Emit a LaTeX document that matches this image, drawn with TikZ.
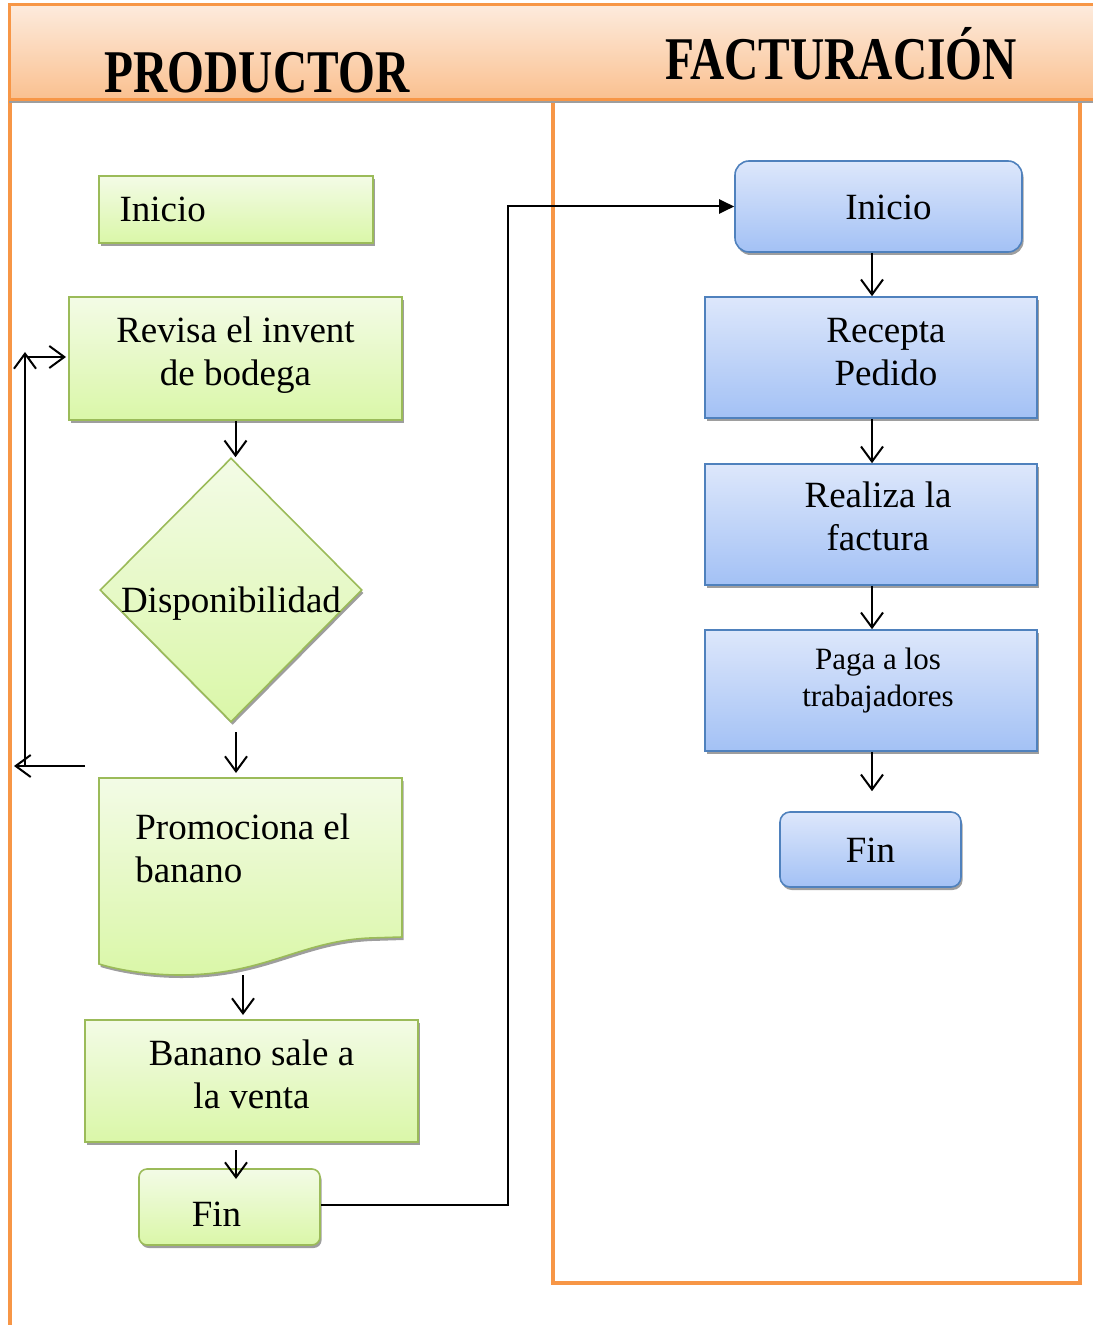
\documentclass[tikz,border=0pt]{standalone}
\usepackage{fontspec}
\usepackage{graphicx}
\setmainfont{Liberation Serif}
\usetikzlibrary{arrows.meta,shapes.geometric,shadows,calc}

\definecolor{lane}{HTML}{F79646}
\definecolor{headtop}{HTML}{FDEBDD}
\definecolor{headbot}{HTML}{FAC08F}
\definecolor{greenline}{HTML}{9BBB59}
\definecolor{greentop}{HTML}{F3FBE6}
\definecolor{greenbot}{HTML}{DAF7A8}
\definecolor{blueline}{HTML}{4F81BD}
\definecolor{bluetop}{HTML}{DDE7FB}
\definecolor{bluebot}{HTML}{A3C1F5}

\newcommand\boxfont{\fontsize{18.5pt}{21.5pt}\selectfont}
\newcommand\smallboxfont{\fontsize{15.5pt}{18.5pt}\selectfont}
\newcommand\headfont{\fontsize{23.7pt}{28pt}\selectfont\bfseries}

\tikzset{
  boxshadow/.style={drop shadow={shadow xshift=0.8pt,shadow yshift=-1.5pt,opacity=1,fill=black!38}},
  greenbox/.style={draw=greenline, line width=0.8pt, top color=greentop, bottom color=greenbot,
                   boxshadow, inner sep=0pt},
  bluebox/.style={draw=blueline, line width=0.8pt, top color=bluetop, bottom color=bluebot,
                  boxshadow, inner sep=0pt},
  boxtext/.style={font=\boxfont, align=center, inner sep=0pt},
  conn/.style={draw, line width=1pt, -{Straight Barb[length=7.5pt,width=11pt,line width=1pt]}},
  lanebar/.style={draw=lane, line width=2pt},
}

\begin{document}
\begin{tikzpicture}[x=0.5pt,y=-0.5pt]
\useasboundingbox (0,0) rectangle (1092,1325);

% swimlane borders
\draw[lanebar] (10,100) -- (10,1330);
\draw[lanebar] (553,100) -- (553,1283) -- (1080,1283) -- (1080,100);

% header band
\path[draw=lane, line width=1.5pt, top color=headtop, bottom color=headbot,
      drop shadow={shadow xshift=0pt,shadow yshift=-1.5pt,opacity=1,fill=black!38}]
  (9,5) rectangle (1110,100);
\node[anchor=base, font=\headfont, inner sep=0pt] (hprod) at (257,93) {\scalebox{1}[1.28]{PRODUCTOR}};
\node[anchor=base, font=\headfont, inner sep=0pt] (hfact) at (841,80) {\scalebox{1}[1.28]{FACTURACIÓN}};

% ---------- PRODUCTOR lane ----------
\node[greenbox, minimum width=137pt, minimum height=33.5pt] (inicioL) at (236,209.5) {};
\node[boxtext, anchor=west] (inicioLt) at ($(inicioL.west)+(21,0)$) {Inicio};

\node[greenbox, minimum width=166.5pt, minimum height=61.5pt] (revisa) at (235.5,358.5) {};
\node[boxtext] (revisat) at ($(revisa)+(0,-3)$) {Revisa el invent\\de bodega};

\node[greenbox, diamond, minimum width=131pt, minimum height=132pt] (dsp) at (231,590) {};
\node[boxtext] (dsptext) at (231,604) {Disponibilidad};

% document shape
\fill[black!38, shift={(1.6,3)}]
  (99,778) -- (402,778) -- (402,937) -- (370,938)
  .. controls (300,941) and (265,975) .. (180,975)
  .. controls (145,975) and (115,969) .. (99,964) -- cycle;
\path[draw=greenline, line width=0.8pt, top color=greentop, bottom color=greenbot]
  (99,778) -- (402,778) -- (402,937) -- (370,938)
  .. controls (300,941) and (265,975) .. (180,975)
  .. controls (145,975) and (115,969) .. (99,964) -- cycle;
\node[font=\boxfont, align=left, anchor=north west, inner sep=0pt] (promo) at (135,813)
  {Promociona el\\banano};

\node[greenbox, minimum width=166.5pt, minimum height=61pt] (banano) at (251.5,1081) {};
\node[boxtext] (bananot) at ($(banano)+(0,-7)$) {Banano sale a\\la venta};

\node[greenbox, rounded corners=4pt, minimum width=90.5pt, minimum height=38pt] (finL)
  at (229.5,1207) {};
\node[boxtext] (finLt) at ($(finL)+(-13,7)$) {Fin};

% connectors, left lane
\draw[conn] (revisa.south) -- (revisa.south |- dsp.north);
\coordinate (d1) at (236,732);
\coordinate (d2) at (236,773);
\draw[conn] (d1) -- (d2);
\coordinate (p1) at (243,975);
\coordinate (p2) at (243,1015);
\draw[conn] (p1) -- (p2);
\coordinate (b1) at (236,1150);
\coordinate (b2) at (236,1179);
\draw[conn] (b1) -- (b2);

% return loop
\coordinate (l1) at (85,766);
\coordinate (l2) at (14,766);
\draw[conn] (l1) -- (l2);
\coordinate (l3) at (25,766);
\coordinate (l4) at (25,352);
\draw[conn] (l3) -- (l4);
\coordinate (l5) at (27,357);
\coordinate (l6) at (66,357);
\draw[conn] (l5) -- (l6);

% ---------- FACTURACIÓN lane ----------
\node[bluebox, rounded corners=7pt, minimum width=143.5pt, minimum height=45.5pt] (inicioR)
  at (878.5,206.5) {};
\node[boxtext] (inicioRt) at ($(inicioR)+(10,1)$) {Inicio};

\node[bluebox, minimum width=166pt, minimum height=60.5pt] (recepta) at (871,357.5) {};
\node[boxtext] (receptat) at ($(recepta)+(15,-5)$) {Recepta\\Pedido};

\node[bluebox, minimum width=166pt, minimum height=60.5pt] (realiza) at (871,524.5) {};
\node[boxtext] (realizat) at ($(realiza)+(7,-8)$) {Realiza la\\factura};

\node[bluebox, minimum width=166pt, minimum height=60.5pt] (paga) at (871,690.5) {};
\node[boxtext, font=\smallboxfont] (pagat) at ($(paga)+(7,-10)$) {Paga a los\\trabajadores};

\node[bluebox, rounded corners=5pt, minimum width=90.5pt, minimum height=37.5pt] (finR)
  at (870.5,849.5) {};
\node[boxtext] (finRt) at ($(finR)+(0,1)$) {Fin};

\draw[conn] (inicioR.south -| 872,0) -- (recepta.north -| 872,0);
\draw[conn] (recepta.south -| 872,0) -- (realiza.north -| 872,0);
\draw[conn] (realiza.south -| 872,0) -- (paga.north -| 872,0);
\draw[conn] (paga.south -| 872,0) -- ($(finR.north -| 872,0)+(0,-20)$);

% hand-off between lanes
\coordinate (bend) at (508,1205);
\draw[line width=1pt, -{Triangle[length=7.5pt,width=7pt]}]
  (finL.east |- bend) -- (bend) |- (inicioR.west);
\end{tikzpicture}
\end{document}
